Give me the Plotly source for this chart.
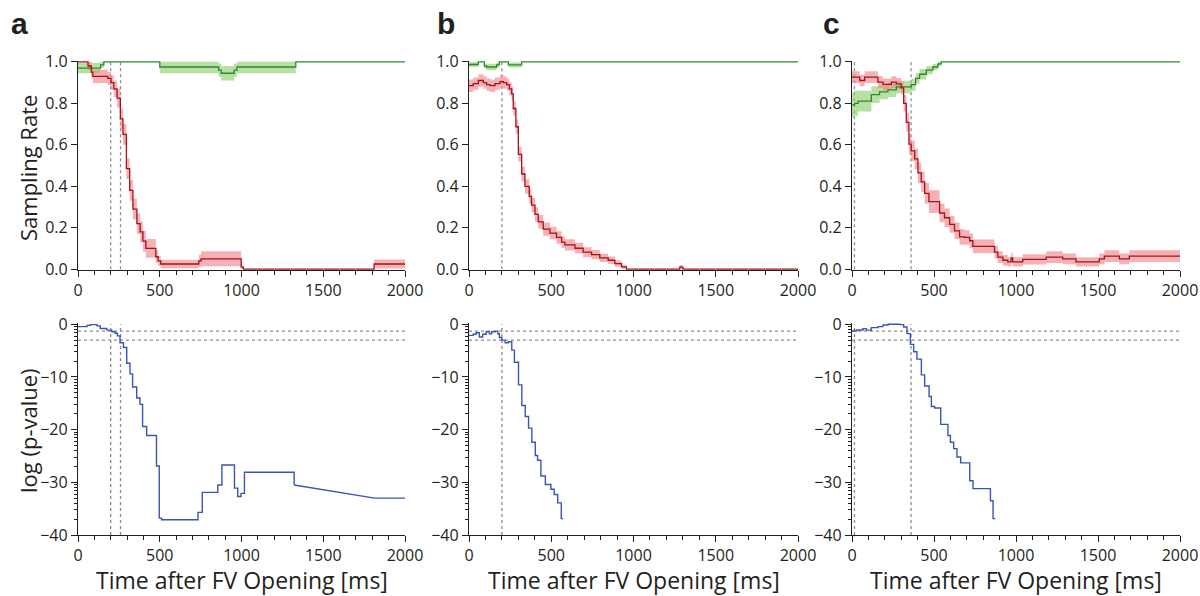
import plotly.graph_objects as go
import numpy as np

# ---------------- data (ms, value per step, half-width of band) ----------------
# Panel a
a_red_t = [0, 61, 81, 91, 182, 202, 219, 239, 259, 275, 296, 316, 336, 360, 380, 397, 415, 476, 490, 506, 739, 753, 998, 1012, 1811, 2000]
a_red_v = [1.0, 0.98, 0.95, 0.93, 0.92, 0.90, 0.87, 0.825, 0.725, 0.65, 0.485, 0.38, 0.29, 0.22, 0.18, 0.135, 0.10, 0.06, 0.04, 0.025, 0.04, 0.05, 0.01, 0.0, 0.025]
a_red_e = [0.0, 0.02, 0.03, 0.032, 0.032, 0.035, 0.04, 0.045, 0.05, 0.05, 0.05, 0.05, 0.05, 0.05, 0.05, 0.05, 0.045, 0.03, 0.025, 0.02, 0.03, 0.036, 0.01, 0.0, 0.022]
a_grn_t = [0, 138, 158, 500, 860, 876, 955, 972, 1332, 2000]
a_grn_v = [0.97, 0.985, 1.0, 0.975, 0.96, 0.945, 0.96, 0.975, 1.0]
a_grn_e = [0.025, 0.015, 0.0, 0.03, 0.032, 0.035, 0.032, 0.03, 0.0]
a_blue_t = [0, 55, 75, 116, 136, 176, 207, 227, 241, 257, 278, 298, 318, 334, 359, 379, 395, 420, 480, 497, 511, 734, 760, 855, 880, 957, 977, 997, 1018, 1322]
a_blue_v = [-0.44, -0.2, -0.06, -0.3, -0.8, -1.1, -1.4, -1.7, -2.2, -3.5, -4.4, -7.4, -9.4, -11.9, -14.0, -15.2, -19.4, -21.1, -26.9, -36.8, -37.1, -35.7, -31.9, -30.5, -26.7, -31.1, -32.7, -32.1, -28.1, -30.5]
a_blue_tail_t = [1322, 1814, 2000]
a_blue_tail_v = [-30.5, -33.0, -33.0]
a_vlines = [200, 260]

# Panel b
b_red_t = [0, 26, 57, 87, 107, 128, 158, 188, 208, 229, 245, 259, 269, 285, 300, 320, 340, 366, 380, 401, 421, 451, 492, 532, 563, 583, 644, 694, 745, 795, 846, 887, 927, 957, 1281, 1301, 2000]
b_red_v = [0.885, 0.895, 0.91, 0.90, 0.89, 0.885, 0.895, 0.905, 0.90, 0.89, 0.87, 0.845, 0.775, 0.687, 0.554, 0.459, 0.399, 0.351, 0.309, 0.264, 0.228, 0.193, 0.174, 0.153, 0.13, 0.117, 0.101, 0.082, 0.07, 0.054, 0.043, 0.027, 0.011, 0.0, 0.01, 0.0]
b_red_e = [0.03, 0.03, 0.03, 0.03, 0.03, 0.03, 0.03, 0.03, 0.03, 0.03, 0.032, 0.035, 0.035, 0.035, 0.035, 0.035, 0.035, 0.035, 0.035, 0.035, 0.033, 0.032, 0.03, 0.03, 0.028, 0.027, 0.026, 0.024, 0.022, 0.02, 0.018, 0.015, 0.01, 0.0, 0.01, 0.0]
b_grn_t = [0, 57, 93, 107, 168, 184, 239, 320, 2000]
b_grn_v = [0.987, 1.0, 0.98, 0.975, 0.985, 1.0, 0.985, 1.0]
b_grn_e = [0.012, 0.0, 0.012, 0.016, 0.012, 0.0, 0.012, 0.0]
b_blue_t = [0, 26, 43, 63, 83, 104, 124, 138, 159, 175, 185, 199, 220, 240, 260, 276, 301, 321, 342, 362, 382, 403, 417, 437, 464, 498, 518, 539, 561, 571]
b_blue_v = [-2.1, -1.9, -1.6, -2.4, -1.9, -1.4, -1.8, -1.4, -1.3, -1.8, -2.5, -3.0, -3.5, -3.3, -4.9, -7.2, -11.5, -15.4, -17.5, -19.7, -22.4, -24.9, -25.8, -28.8, -30.4, -31.3, -32.3, -33.9, -36.9, -36.9]
b_vlines = [200]

# Panel c
c_red_t = [0, 47, 77, 158, 189, 240, 270, 300, 315, 331, 347, 361, 382, 402, 422, 443, 469, 534, 564, 595, 625, 656, 686, 717, 737, 869, 889, 920, 950, 970, 980, 1041, 1184, 1285, 1366, 1508, 1539, 1630, 1691, 2000]
c_red_v = [0.926, 0.91, 0.926, 0.902, 0.891, 0.902, 0.894, 0.874, 0.80, 0.708, 0.603, 0.571, 0.532, 0.464, 0.421, 0.366, 0.326, 0.271, 0.248, 0.216, 0.185, 0.156, 0.153, 0.137, 0.11, 0.082, 0.058, 0.043, 0.035, 0.054, 0.035, 0.047, 0.058, 0.05, 0.035, 0.05, 0.063, 0.05, 0.063]
c_red_e = [0.028, 0.028, 0.028, 0.028, 0.028, 0.028, 0.028, 0.03, 0.04, 0.045, 0.05, 0.05, 0.05, 0.05, 0.05, 0.05, 0.055, 0.045, 0.045, 0.04, 0.04, 0.038, 0.035, 0.035, 0.033, 0.03, 0.028, 0.025, 0.022, 0.025, 0.022, 0.025, 0.028, 0.026, 0.022, 0.026, 0.028, 0.026, 0.028]
c_grn_t = [0, 16, 37, 118, 168, 219, 270, 361, 388, 412, 453, 493, 524, 544, 2000]
c_grn_v = [0.792, 0.80, 0.81, 0.842, 0.855, 0.865, 0.879, 0.89, 0.92, 0.94, 0.96, 0.975, 0.99, 1.0]
c_grn_e = [0.06, 0.06, 0.05, 0.04, 0.035, 0.035, 0.03, 0.03, 0.025, 0.025, 0.02, 0.015, 0.01, 0.0]
c_blue_t = [0, 26, 67, 87, 118, 159, 189, 220, 291, 315, 335, 356, 376, 396, 423, 443, 470, 484, 504, 541, 585, 600, 620, 640, 663, 718, 738, 844, 860, 874]
c_blue_v = [-1.26, -1.07, -0.82, -1.1, -0.63, -0.44, -0.13, 0.0, -0.06, -0.5, -1.76, -3.8, -5.2, -6.6, -9.6, -11.7, -13.7, -15.6, -15.9, -19.0, -21.1, -22.4, -23.6, -25.2, -26.3, -29.7, -31.2, -33.5, -36.9, -36.9]
c_vlines = [15, 360]

p_hlines = [-1.3, -3.0]
panel_letters = ["a", "b", "c"]
x_ticks = [0, 500, 1000, 1500, 2000]
top_ticks = [0.0, 0.2, 0.4, 0.6, 0.8, 1.0]
bot_ticks = [0, -10, -20, -30, -40]

# ---------------- styling ----------------
RED = "#a3131c"
RED_BAND = "rgba(240,125,132,0.6)"
GRN = "#2a8a2a"
GRN_BAND = "rgba(140,205,110,0.62)"
BLUE = "#3a56b4"
AX = "#231f20"
DASH = "#8c8c8c"
FONT = "Open Sans"

W, H = 1200, 596
x_px = [(78, 405), (469, 798), (852, 1180)]
top_px = (61, 270)
bot_px = (323, 535)

fig = go.Figure()


def ext(t, v):
    return list(t), list(v) + [v[-1]]


def add_band(t, v, e, xa, ya, color):
    tt, vv = ext(t, v)
    _, ee = ext(t, e)
    vv = np.array(vv); ee = np.array(ee)
    hi = np.minimum(vv + ee, 1.0)
    lo = np.maximum(vv - ee, 0.0)
    fig.add_trace(go.Scatter(x=tt, y=hi, mode="lines", line=dict(width=0, shape="hv"),
                             xaxis=xa, yaxis=ya, hoverinfo="skip", showlegend=False))
    fig.add_trace(go.Scatter(x=tt, y=lo, mode="lines", line=dict(width=0, shape="hv"),
                             fill="tonexty", fillcolor=color,
                             xaxis=xa, yaxis=ya, hoverinfo="skip", showlegend=False))


def add_line(t, v, xa, ya, color, width=1.3, shape="hv"):
    tt, vv = ext(t, v)
    fig.add_trace(go.Scatter(x=tt, y=vv, mode="lines", line=dict(width=width, color=color, shape=shape),
                             xaxis=xa, yaxis=ya, showlegend=False))


panels = [
    dict(red=(a_red_t, a_red_v, a_red_e), grn=(a_grn_t, a_grn_v, a_grn_e), blue=(a_blue_t, a_blue_v), vl=a_vlines),
    dict(red=(b_red_t, b_red_v, b_red_e), grn=(b_grn_t, b_grn_v, b_grn_e), blue=(b_blue_t, b_blue_v), vl=b_vlines),
    dict(red=(c_red_t, c_red_v, c_red_e), grn=(c_grn_t, c_grn_v, c_grn_e), blue=(c_blue_t, c_blue_v), vl=c_vlines),
]

shapes = []
annotations = []
minor_y = [d - 10 + 10 * np.log10(m) for d in (0, -10, -20, -30) for m in range(2, 10)]

for i, p in enumerate(panels):
    xt, yt = f"x{i+1}" if i else "x", f"y{i+1}" if i else "y"
    xb, yb = f"x{i+4}", f"y{i+4}"
    add_band(*p["grn"], xt, yt, GRN_BAND)
    add_band(*p["red"], xt, yt, RED_BAND)
    add_line(p["grn"][0], p["grn"][1], xt, yt, GRN)
    add_line(p["red"][0], p["red"][1], xt, yt, RED)
    bt, bv = p["blue"]
    fig.add_trace(go.Scatter(x=bt, y=bv, mode="lines", line=dict(width=1.4, color=BLUE, shape="hv"),
                             xaxis=xb, yaxis=yb, showlegend=False))
    if i == 0:
        fig.add_trace(go.Scatter(x=a_blue_tail_t, y=a_blue_tail_v, mode="lines",
                                 line=dict(width=1.4, color=BLUE), xaxis=xb, yaxis=yb, showlegend=False))

    for xv in p["vl"]:
        shapes.append(dict(type="line", xref=xt, yref=yt, x0=xv, x1=xv, y0=0, y1=1,
                           line=dict(color=DASH, width=1.3, dash="3px,3px"), layer="below"))
        shapes.append(dict(type="line", xref=xb, yref=yb, x0=xv, x1=xv, y0=-40, y1=0,
                           line=dict(color=DASH, width=1.3, dash="3px,3px"), layer="below"))
    for hv_ in p_hlines:
        shapes.append(dict(type="line", xref=xb, yref=yb, x0=0, x1=2000, y0=hv_, y1=hv_,
                           line=dict(color=DASH, width=1.3, dash="3px,3px"), layer="below"))

    x0, x1 = x_px[i]
    dom_x = [x0 / W, x1 / W]
    common = dict(showline=True, linecolor=AX, linewidth=1.3, ticks="outside", ticklen=6, tickwidth=1.2,
                  tickcolor=AX, showgrid=False, zeroline=False, automargin=False,
                  tickfont=dict(family=FONT, size=16, color=AX))
    xax = dict(common, domain=dom_x, range=[0, 2000], tickmode="array", tickvals=x_ticks,
               minor=dict(dtick=100, tick0=0, ticklen=4, ticks="outside", tickcolor=AX, tickwidth=1.1))
    layout_key = lambda base, n: base if n == 1 else f"{base}{n}"
    fig.update_layout({
        layout_key("xaxis", i + 1): dict(xax, anchor=yt),
        layout_key("yaxis", i + 1): dict(common, domain=[1 - top_px[1] / H, 1 - top_px[0] / H],
                                          range=[-0.004, 1.004], tickmode="array", tickvals=top_ticks,
                                          ticktext=[f"{v:.1f}" for v in top_ticks], anchor=xt),
        layout_key("xaxis", i + 4): dict(xax, anchor=yb),
        layout_key("yaxis", i + 4): dict(common, domain=[1 - bot_px[1] / H, 1 - bot_px[0] / H],
                                          range=[-40, 0.25], tickmode="array", tickvals=bot_ticks,
                                          minor=dict(tickmode="array", tickvals=minor_y, ticklen=3,
                                                     ticks="outside", tickcolor=AX, tickwidth=1.0),
                                          anchor=xb),
    })

    cx = (x0 + x1) / 2 / W
    annotations.append(dict(text="Time after FV Opening [ms]", x=cx, y=1 - 580 / H, xref="paper", yref="paper",
                            showarrow=False, xanchor="center", yanchor="middle",
                            font=dict(family=FONT, size=23, color=AX)))

letter_x = [19, 446, 831]
for lx, lt in zip(letter_x, panel_letters):
    annotations.append(dict(text=f"<b>{lt}</b>", x=lx / W, y=1 - 24 / H, xref="paper", yref="paper",
                            showarrow=False, xanchor="center", yanchor="middle",
                            font=dict(family="Liberation Sans", size=30, color=AX)))

annotations.append(dict(text="Sampling Rate", x=28 / W, y=1 - 168 / H, xref="paper", yref="paper",
                        showarrow=False, textangle=-90, xanchor="center", yanchor="middle",
                        font=dict(family=FONT, size=22, color=AX)))
annotations.append(dict(text="log (p-value)", x=28 / W, y=1 - 431 / H, xref="paper", yref="paper",
                        showarrow=False, textangle=-90, xanchor="center", yanchor="middle",
                        font=dict(family=FONT, size=22, color=AX)))

fig.update_layout(width=W, height=H, margin=dict(l=0, r=0, t=0, b=0, autoexpand=False),
                  paper_bgcolor="white", plot_bgcolor="white",
                  shapes=shapes, annotations=annotations, showlegend=False)

fig.write_html("out.html", config={"displayModeBar": False},
               post_script="document.body.style.margin='0';document.body.style.overflow='hidden';")
